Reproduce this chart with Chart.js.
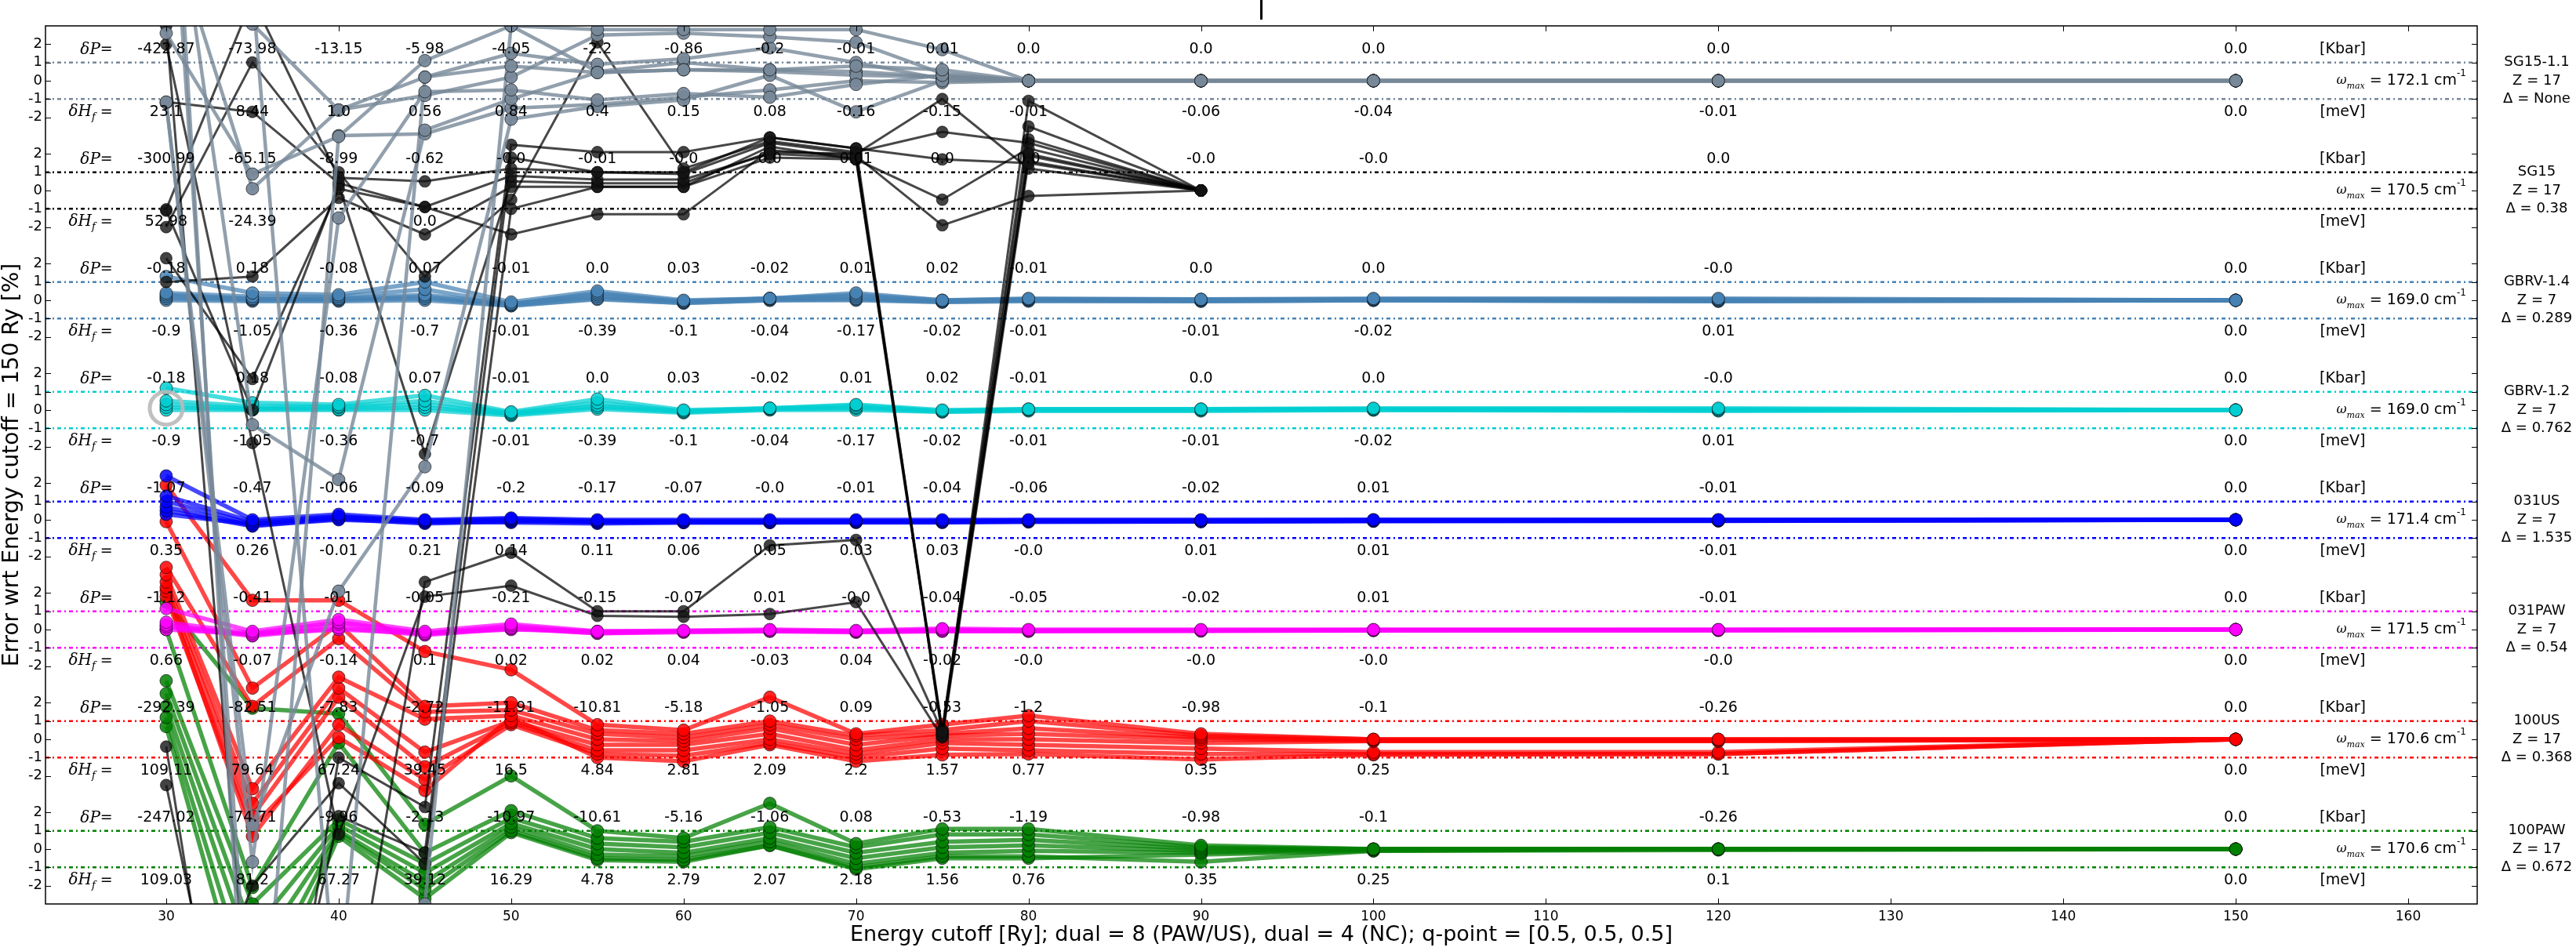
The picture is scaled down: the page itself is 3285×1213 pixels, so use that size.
<!DOCTYPE html>
<html>
<head>
<meta charset="utf-8">
<script src="https://cdn.jsdelivr.net/npm/chart.js@4.4.0/dist/chart.umd.min.js"></script>
<style>
  html, body { margin: 0; padding: 0; background: #fff; }
  canvas { display: block; }
</style>
</head>
<body>
<canvas id="myChart" width="3285" height="1213"></canvas>
<script>
// energy cutoffs [Ry]
const cutoffs = [30, 35, 40, 45, 50, 55, 60, 65, 70, 75, 80, 90, 100, 120, 150];
const xMin = 23, xMax = 164;

const bandNames = ['SG15-1.1', 'SG15', 'GBRV-1.4', 'GBRV-1.2', '031US', '031PAW', '100US', '100PAW'];
const bandColors = ['#778899', '#000000', '#4682b4', '#00ced1', '#0000ff', '#ff00ff', '#ff0000', '#008000'];
const bandZ = ['17', '17', '7', '7', '7', '7', '17', '17'];
const bandDelta = ['None', '0.38', '0.289', '0.762', '1.535', '0.54', '0.368', '0.672'];
const bandOmega = ['172.1', '170.5', '169.0', '169.0', '171.4', '171.5', '170.6', '170.6'];

// phonon frequency error [%] per mode, one array per line
const sg151Lines = [
  [2.6, -5.1, -3.05, 1.1, 3.0, 2.8, 2.8, 2.8, 2.8, 1.7, 0, 0, 0, 0, 0],
  [9.0, -5.9, -1.6, 0.2, 0.8, 0.45, 0.6, 0.6, 0.8, 0.6, 0, 0, 0, 0, 0],
  [-1.16, -42.7, -7.5, -0.6, -0.5, -1.05, -0.7, -0.9, -0.2, 0.3, 0, 0, 0, 0, 0],
  [-1.2, -40.7, -27.9, -21.1, -2.1, -1.4, -1.05, 0.3, -1.7, 0.0, 0, 0, 0, 0, 0],
  [14, -18.8, -21.8, -2.7, -1.0, 0.45, 0.6, 0.5, 0.3, 0.2, 0, 0, 0, 0, 0],
  [12, 3.1, -1.6, -0.8, 0.2, 2.5, 2.6, 2.4, 2.1, 0.4, 0, 0, 0, 0, 0],
  [20, -60, -3.0, -2.9, -1.5, -1.3, -0.9, -0.5, 0.0, -0.1, 0, 0, 0, 0, 0],
  [16, -55, -50, 0.2, 1.5, 0.9, 1.2, 1.8, 1.0, 0.1, 0, 0, 0, 0, 0],
  [18, 5, -52, -45, 3.0, 0.5, 1.0, 0.6, 0.5, 0.2, 0, 0, 0, 0, 0]
];
const sg15Lines = [
  [-1.03, 10.5, 0.7, 0.5, 1.2, 1.0, 1.0, 2.9, 2.3, 1.7, 1.5, 0, null, null, null],
  [-3.7, -10.3, 0.1, -0.9, 0.8, 0.6, 0.6, 2.0, 1.8, -29.6, 2.0, 0, null, null, null],
  [-5.0, -4.7, -0.4, -2.4, 0.2, 0.2, 0.2, 1.8, 1.7, -0.5, 2.3, 0, null, null, null],
  [4.84, 4.3, 0.4, -0.9, -2.4, -1.3, -1.3, 2.2, 1.9, -1.9, -0.3, 0, null, null, null],
  [-30.4, -60, -31.0, -33.7, 2.5, 2.1, 2.1, 2.9, 2.3, -29.8, 4.9, 0, null, null, null],
  [-32.5, -55, -34.2, -36.2, 1.8, 1.0, 0.9, 2.6, 2.0, -29.5, 3.5, 0, null, null, null],
  [-50, -38, -32.4, -36.8, -1.0, 0.2, 0.2, 2.4, 1.7, -29.7, 1.9, 0, null, null, null],
  [8, -13.8, -35.2, -22.2, -21.6, -23.25, -23.3, -23.15, -22.5, -29.9, 1.6, 0, null, null, null],
  [9, -48, -50, -21.4, -19.8, -23.0, -23.0, -19.4, -19.1, -29.6, 2.8, 0, null, null, null],
  [-2.0, 7, 1.0, -4.7, -0.5, 8.1, 1.2, 2.7, 2.1, 3.2, 2.6, 0, null, null, null],
  [-1.1, -12, 0.3, -14.4, 0.5, 0.4, 0.4, 2.1, 2.0, 5.0, 1.2, 0, null, null, null]
];
const gbrv14Lines = [
  [1.3, 0.4, 0.3, 1.0, -0.1, 0.5, 0.0, 0.1, 0.4, 0.0, 0.1, 0.05, 0.1, 0.1, 0],
  [0.4, 0.2, 0.2, 0.6, -0.2, 0.4, -0.05, 0.1, 0.3, 0.0, 0.05, 0.05, 0.05, 0.05, 0],
  [0.3, 0.1, 0.1, 0.3, -0.2, 0.3, -0.1, 0.1, 0.2, -0.05, 0.05, 0.0, 0.05, 0.0, 0],
  [0.2, 0.05, 0.05, 0.2, -0.25, 0.2, -0.1, 0.05, 0.1, -0.05, 0.0, 0.0, 0.0, 0.0, 0],
  [0.1, 0.0, 0.0, 0.1, -0.3, 0.1, -0.15, 0.0, 0.05, -0.1, 0.0, -0.05, 0.0, -0.05, 0],
  [0.0, -0.05, -0.05, 0.0, -0.3, 0.05, -0.15, 0.0, 0.0, -0.1, -0.05, -0.05, 0.0, -0.05, 0]
];
const gbrv12Lines = [
  [1.2, 0.4, 0.3, 0.8, -0.1, 0.6, 0.0, 0.1, 0.3, 0.0, 0.05, 0.05, 0.1, 0.1, 0],
  [0.5, 0.2, 0.2, 0.5, -0.15, 0.4, -0.05, 0.1, 0.25, -0.05, 0.05, 0.05, 0.05, 0.05, 0],
  [0.3, 0.1, 0.15, 0.3, -0.2, 0.25, -0.1, 0.05, 0.15, -0.05, 0.0, 0.0, 0.05, 0.0, 0],
  [0.15, 0.05, 0.05, 0.15, -0.25, 0.15, -0.1, 0.05, 0.1, -0.1, 0.0, 0.0, 0.0, 0.0, 0],
  [0.0, 0.0, 0.0, 0.0, -0.3, 0.05, -0.15, 0.0, 0.0, -0.1, -0.05, -0.05, 0.0, -0.05, 0]
];
const us031Lines = [
  [2.4, 0.0, 0.3, 0.0, 0.1, 0.0, 0.0, 0.0, 0.0, 0.0, 0.0, 0.0, 0.0, 0.0, 0],
  [1.3, -0.1, 0.2, -0.05, 0.05, -0.05, -0.05, -0.05, -0.05, -0.05, -0.02, -0.02, 0, 0, 0],
  [1.0, -0.2, 0.1, -0.1, 0.0, -0.1, -0.1, -0.1, -0.1, -0.1, -0.05, -0.05, -0.05, -0.03, 0],
  [0.7, -0.3, 0.0, -0.15, -0.05, -0.15, -0.15, -0.15, -0.1, -0.1, -0.1, -0.1, -0.05, -0.05, 0],
  [0.5, -0.35, 0.05, -0.2, -0.1, -0.1, -0.12, -0.12, -0.12, -0.12, -0.08, -0.08, -0.06, -0.05, 0],
  [0.3, -0.25, 0.15, -0.1, -0.15, -0.2, -0.15, -0.15, -0.15, -0.15, -0.12, -0.1, -0.08, -0.06, 0]
];
const paw031Lines = [
  [1.15, -0.1, 0.55, -0.1, 0.3, -0.1, -0.05, 0.0, -0.05, 0.05, 0.0, 0.0, 0.0, 0.0, 0],
  [0.4, -0.2, 0.4, -0.2, 0.2, -0.15, -0.1, -0.05, -0.1, 0.0, -0.05, -0.05, -0.02, -0.02, 0],
  [0.25, -0.3, 0.3, -0.25, 0.1, -0.2, -0.1, -0.05, -0.1, -0.05, -0.05, -0.05, -0.05, -0.02, 0],
  [0.15, -0.35, 0.1, -0.3, 0.05, -0.2, -0.15, -0.1, -0.15, -0.1, -0.1, -0.08, -0.05, -0.05, 0],
  [0.0, -0.25, 0.0, -0.2, 0.0, -0.1, -0.1, -0.08, -0.12, -0.08, -0.08, -0.06, -0.04, -0.03, 0]
];
const us100Lines = [
  [13.9, 7.6, 7.6, 4.8, 3.8, 0.8, 0.5, 2.3, 0.3, 0.8, 1.3, 0.3, 0.0, 0.0, 0],
  [11.9, 2.8, 6.3, 1.8, 2.0, 0.5, 0.3, 1.0, 0.2, 0.5, 1.0, 0.2, 0.0, 0.0, 0],
  [9.4, 1.8, 5.5, 1.5, 1.6, 0.3, 0.1, 0.8, 0.0, 0.3, 0.6, 0.1, -0.05, -0.05, 0],
  [9.0, -2.7, 3.4, 1.1, 1.3, 0.0, -0.1, 0.6, -0.3, 0.2, 0.3, 0.0, -0.1, -0.1, 0],
  [8.6, -3.5, 2.8, -0.7, 1.0, -0.3, -0.3, 0.3, -0.6, 0.0, 0.0, -0.2, -0.1, -0.1, 0],
  [8.3, -4.2, 2.3, -1.5, 0.9, -0.6, -0.6, 0.0, -0.8, -0.2, -0.3, -0.5, -0.7, -0.7, 0],
  [8.1, -5.3, 0.8, -2.2, 0.8, -0.8, -0.9, -0.2, -1.0, -0.5, -0.6, -0.8, -0.8, -0.8, 0],
  [7.8, -4.8, 0.1, -2.8, 1.2, -1.0, -1.2, -0.3, -1.2, -0.85, -0.8, -1.1, -0.85, -0.8, 0]
];
const paw100Lines = [
  [13.5, 7.7, 7.4, 1.35, 4.0, 1.0, 0.6, 2.5, 0.3, 1.1, 1.1, 0.2, 0.0, 0.0, 0],
  [12.0, -2.1, 5.8, -0.2, 2.1, 0.6, 0.4, 1.2, 0.1, 0.8, 0.8, 0.1, 0.0, 0.0, 0],
  [9.2, -3.0, 1.6, -0.8, 1.7, 0.3, 0.1, 0.9, -0.2, 0.4, 0.5, 0.0, 0.0, 0.0, 0],
  [8.5, -4.5, 1.3, -1.3, 1.4, 0.0, -0.2, 0.6, -0.5, 0.1, 0.2, -0.1, 0.0, 0.0, 0],
  [7.8, -6, 1.0, -1.8, 1.2, -0.3, -0.4, 0.4, -0.8, -0.2, -0.1, -0.2, -0.05, 0.0, 0],
  [7.2, -8, 0.9, -2.2, 1.0, -0.5, -0.6, 0.2, -1.0, -0.4, -0.4, -0.7, -0.1, 0.0, 0],
  [6.7, -10, 0.7, -2.7, 0.9, -0.6, -0.7, 0.2, -1.1, -0.5, -0.5, -0.3, -0.1, -0.05, 0]
];

// pressure error [Kbar] and formation enthalpy error [meV] per cutoff
const sg151DP = ['-422.87', '-73.98', '-13.15', '-5.98', '-4.05', '-2.2', '-0.86', '-0.2', '-0.01', '0.01', '0.0', '0.0', '0.0', '0.0', '0.0'];
const sg151DH = ['23.1', '8.44', '1.0', '0.56', '0.84', '0.4', '0.15', '0.08', '-0.16', '-0.15', '-0.01', '-0.06', '-0.04', '-0.01', '0.0'];
const sg15DP = ['-300.99', '-65.15', '-8.99', '-0.62', '-0.0', '-0.01', '-0.0', '0.0', '0.01', '0.0', '0.0', '-0.0', '-0.0', '0.0', null];
const sg15DH = ['52.98', '-24.39', null, '0.0', null, null, null, null, null, null, null, null, null, null, null];
const gbrv14DP = ['-0.18', '0.18', '-0.08', '0.07', '-0.01', '0.0', '0.03', '-0.02', '0.01', '0.02', '-0.01', '0.0', '0.0', '-0.0', '0.0'];
const gbrv14DH = ['-0.9', '-1.05', '-0.36', '-0.7', '-0.01', '-0.39', '-0.1', '-0.04', '-0.17', '-0.02', '-0.01', '-0.01', '-0.02', '0.01', '0.0'];
const gbrv12DP = ['-0.18', '0.18', '-0.08', '0.07', '-0.01', '0.0', '0.03', '-0.02', '0.01', '0.02', '-0.01', '0.0', '0.0', '-0.0', '0.0'];
const gbrv12DH = ['-0.9', '-1.05', '-0.36', '-0.7', '-0.01', '-0.39', '-0.1', '-0.04', '-0.17', '-0.02', '-0.01', '-0.01', '-0.02', '0.01', '0.0'];
const us031DP = ['-1.07', '-0.47', '-0.06', '-0.09', '-0.2', '-0.17', '-0.07', '-0.0', '-0.01', '-0.04', '-0.06', '-0.02', '0.01', '-0.01', '0.0'];
const us031DH = ['0.35', '0.26', '-0.01', '0.21', '0.14', '0.11', '0.06', '0.05', '0.03', '0.03', '-0.0', '0.01', '0.01', '-0.01', '0.0'];
const paw031DP = ['-1.12', '-0.41', '-0.1', '-0.05', '-0.21', '-0.15', '-0.07', '0.01', '-0.0', '-0.04', '-0.05', '-0.02', '0.01', '-0.01', '0.0'];
const paw031DH = ['0.66', '-0.07', '-0.14', '0.1', '0.02', '0.02', '0.04', '-0.03', '0.04', '-0.02', '-0.0', '-0.0', '-0.0', '-0.0', '0.0'];
const us100DP = ['-292.39', '-82.51', '-7.83', '-2.72', '-11.91', '-10.81', '-5.18', '-1.05', '0.09', '-0.53', '-1.2', '-0.98', '-0.1', '-0.26', '0.0'];
const us100DH = ['109.11', '79.64', '67.24', '39.45', '16.5', '4.84', '2.81', '2.09', '2.2', '1.57', '0.77', '0.35', '0.25', '0.1', '0.0'];
const paw100DP = ['-247.02', '-74.71', '-9.96', '-2.13', '-10.97', '-10.61', '-5.16', '-1.06', '0.08', '-0.53', '-1.19', '-0.98', '-0.1', '-0.26', '0.0'];
const paw100DH = ['109.03', '81.2', '67.27', '39.12', '16.29', '4.78', '2.79', '2.07', '2.18', '1.56', '0.76', '0.35', '0.25', '0.1', '0.0'];

// grey ring around one point
const ringCutoff = 30;
const ringValue = 0.1;
const ringBand = 'GBRV-1.2';

const bandLines = [sg151Lines, sg15Lines, gbrv14Lines, gbrv12Lines, us031Lines, paw031Lines, us100Lines, paw100Lines];
const bandDP = [sg151DP, sg15DP, gbrv14DP, gbrv12DP, us031DP, paw031DP, us100DP, paw100DP];
const bandDH = [sg151DH, sg15DH, gbrv14DH, gbrv12DH, us031DH, paw031DH, us100DH, paw100DH];

const bandStep = 6;
const bandOffset = k => bandStep * (bandNames.length - 1 - k);

function rgba(hex, a) {
  const n = parseInt(hex.slice(1), 16);
  return 'rgba(' + (n >> 16 & 255) + ',' + (n >> 8 & 255) + ',' + (n & 255) + ',' + a + ')';
}

const datasets = [];

// ring (drawn on top)
const ringK = bandNames.indexOf(ringBand);
datasets.push({
  data: [{ x: ringCutoff, y: ringValue + bandOffset(ringK) }],
  showLine: false,
  pointRadius: 21,
  pointBorderWidth: 5,
  pointBorderColor: 'rgba(185,185,185,0.9)',
  pointBackgroundColor: 'rgba(0,0,0,0)',
  clip: 0
});

bandNames.forEach((name, k) => {
  const off = bandOffset(k);
  const col = bandColors[k];
  let lw = 5.5, la = 0.72, pr = 8, pf = rgba(col, 0.85);
  if (k === 0) { lw = 4.5; la = 0.8; pf = rgba(col, 0.95); }
  if (k === 1) { lw = 3; la = 0.72; pr = 7.5; pf = 'rgba(20,20,20,0.8)'; }
  bandLines[k].forEach(vals => {
    datasets.push({
      data: cutoffs.map((c, i) => ({ x: c, y: vals[i] == null ? null : vals[i] + off })),
      borderColor: rgba(col, la),
      borderWidth: lw,
      pointRadius: pr,
      pointBackgroundColor: pf,
      pointBorderColor: 'rgba(0,0,0,0.6)',
      pointBorderWidth: 1,
      tension: 0,
      spanGaps: false,
      clip: 0
    });
  });
});

// dash-dot +-1 % guides
bandNames.forEach((name, k) => {
  const off = bandOffset(k);
  [1, -1].forEach(s => {
    datasets.push({
      data: [{ x: xMin, y: off + s }, { x: xMax, y: off + s }],
      borderColor: bandColors[k],
      borderWidth: 2.5,
      borderDash: [5, 4, 2, 4],
      pointRadius: 0,
      clip: 0
    });
  });
});

const yTickValues = [];
bandNames.forEach((n, k) => { for (let r = -2; r <= 2; r++) yTickValues.push(bandOffset(k) + r); });

function drawParts(ctx, parts, x, y, align) {
  let total = 0;
  parts.forEach(p => { ctx.font = p.f; p.w = ctx.measureText(p.t).width; total += p.w; });
  let cx = align === 'right' ? x - total : (align === 'center' ? x - total / 2 : x);
  parts.forEach(p => {
    ctx.font = p.f;
    ctx.textAlign = 'left';
    ctx.fillText(p.t, cx, y + (p.dy || 0));
    cx += p.w;
  });
}

const SANS = '"DejaVu Sans"';
const SERIF = '"DejaVu Serif"';

const decorations = {
  id: 'decorations',
  afterDraw(chart) {
    const { ctx, chartArea: a, scales: { x, y } } = chart;
    ctx.save();
    ctx.fillStyle = '#000';
    ctx.strokeStyle = '#000';

    // frame and inward ticks
    ctx.lineWidth = 1.5;
    ctx.strokeRect(a.left, a.top, a.right - a.left, a.bottom - a.top);
    ctx.lineWidth = 1;
    ctx.beginPath();
    x.ticks.forEach(t => {
      const px = Math.round(x.getPixelForValue(t.value)) + 0.5;
      ctx.moveTo(px, a.bottom); ctx.lineTo(px, a.bottom - 7);
      ctx.moveTo(px, a.top); ctx.lineTo(px, a.top + 7);
    });
    y.ticks.forEach(t => {
      const py = Math.round(y.getPixelForValue(t.value)) + 0.5;
      ctx.moveTo(a.left, py); ctx.lineTo(a.left + 7, py);
      ctx.moveTo(a.right, py); ctx.lineTo(a.right - 7, py);
    });
    ctx.stroke();

    // per-band texts
    ctx.textBaseline = 'middle';
    bandNames.forEach((name, k) => {
      const off = bandOffset(k);
      const yP = y.getPixelForValue(off + 1.7);
      const yH = y.getPixelForValue(off - 1.7);
      ctx.font = '19px ' + SANS;
      ctx.textAlign = 'center';
      cutoffs.forEach((c, i) => {
        const px = x.getPixelForValue(c);
        if (bandDP[k][i] != null) ctx.fillText(bandDP[k][i], px, yP);
        if (bandDH[k][i] != null) ctx.fillText(bandDH[k][i], px, yH);
      });
      ctx.fillText('[Kbar]', x.getPixelForValue(156.2), yP);
      ctx.fillText('[meV]', x.getPixelForValue(156.2), yH);

      const lx = x.getPixelForValue(26.9);
      drawParts(ctx, [
        { t: '\u03b4P', f: 'italic 20px ' + SERIF },
        { t: '=', f: '19px ' + SANS }
      ], lx, yP, 'right');
      drawParts(ctx, [
        { t: '\u03b4H', f: 'italic 20px ' + SERIF },
        { t: 'f', f: 'italic 13px ' + SERIF, dy: 7 },
        { t: ' =', f: '19px ' + SANS }
      ], lx, yH, 'right');

      const yC = y.getPixelForValue(off);
      drawParts(ctx, [
        { t: '\u03c9', f: 'italic 16px ' + SERIF },
        { t: 'max', f: 'italic 11px ' + SERIF, dy: 7 },
        { t: ' = ' + bandOmega[k] + ' cm', f: '19px ' + SANS },
        { t: '-1', f: '12px ' + SANS, dy: -9 }
      ], a.right - 14, yC, 'right');

      ctx.font = '18px ' + SANS;
      ctx.textAlign = 'center';
      const rx = a.right + 76;
      ctx.fillText(name, rx, y.getPixelForValue(off + 1));
      ctx.fillText('Z = ' + bandZ[k], rx, yC);
      ctx.fillText('\u0394 = ' + bandDelta[k], rx, y.getPixelForValue(off - 1));
    });

    // axis titles
    ctx.font = '27px ' + SANS;
    ctx.textAlign = 'center';
    ctx.fillText('Energy cutoff [Ry]; dual = 8 (PAW/US), dual = 4 (NC); q-point = [0.5, 0.5, 0.5]', (a.left + a.right) / 2, 1193);
    ctx.save();
    ctx.translate(16, (a.top + a.bottom) / 2);
    ctx.rotate(-Math.PI / 2);
    ctx.font = '28px ' + SANS;
    ctx.fillText('Error wrt Energy cutoff = 150 Ry [%]', 0, 0);
    ctx.restore();

    // clipped title bar at the top
    ctx.lineWidth = 3;
    ctx.beginPath();
    ctx.moveTo((a.left + a.right) / 2, 0);
    ctx.lineTo((a.left + a.right) / 2, 25);
    ctx.stroke();
    ctx.restore();
  }
};

const ctx = document.getElementById('myChart').getContext('2d');
const myChart = new Chart(ctx, {
  type: 'line',
  data: { datasets: datasets },
  options: {
    responsive: false,
    animation: false,
    devicePixelRatio: 1,
    layout: { padding: { top: 33, right: 126, left: 0, bottom: 0 } },
    plugins: { legend: { display: false }, tooltip: { enabled: false } },
    scales: {
      x: {
        type: 'linear',
        position: 'bottom',
        min: xMin,
        max: xMax,
        afterFit: s => { s.height = 60; },
        grid: { display: false, drawTicks: false },
        border: { display: false },
        ticks: {
          stepSize: 10,
          includeBounds: false,
          autoSkip: false,
          maxRotation: 0,
          padding: 6,
          color: '#000',
          font: { family: 'DejaVu Sans', size: 17 }
        }
      },
      y: {
        type: 'linear',
        min: -3,
        max: 45,
        afterFit: s => { s.width = 58; },
        afterBuildTicks: s => { s.ticks = yTickValues.map(v => ({ value: v })); },
        grid: { display: false, drawTicks: false },
        border: { display: false },
        ticks: {
          autoSkip: false,
          padding: 4,
          color: '#000',
          font: { family: 'DejaVu Sans', size: 18 },
          callback: v => String(Math.round(v - bandStep * Math.round(v / bandStep)))
        }
      }
    }
  },
  plugins: [decorations]
});
</script>
</body>
</html>
